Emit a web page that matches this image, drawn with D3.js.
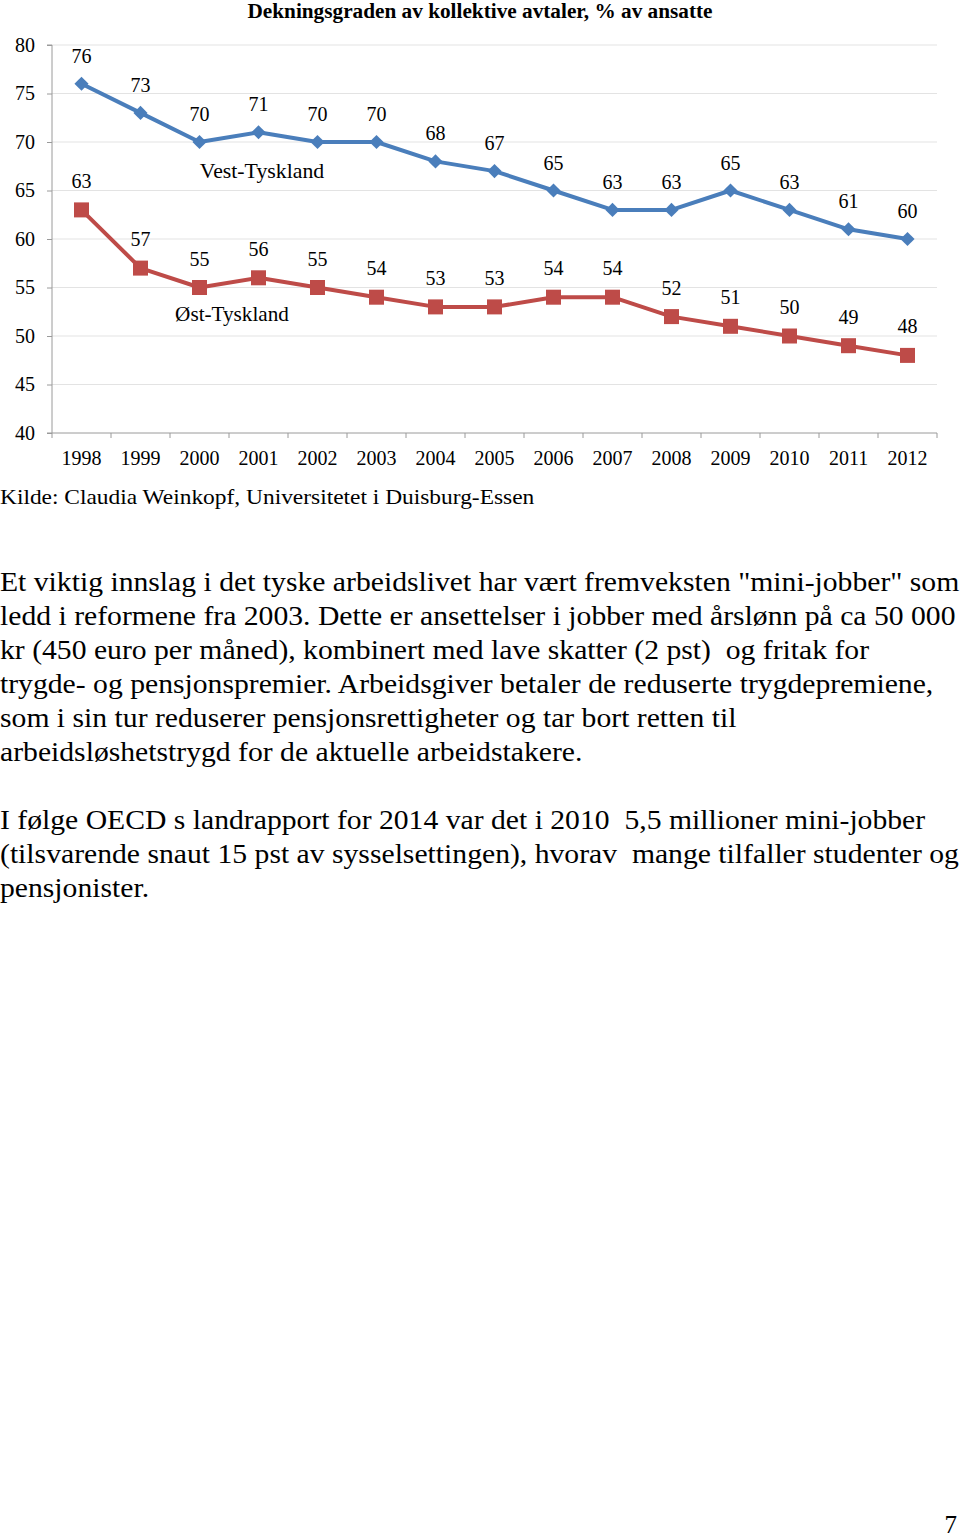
<!DOCTYPE html>
<html><head><meta charset="utf-8">
<script src="https://cdn.jsdelivr.net/npm/d3@7"></script>
<style>body{margin:0;background:#fff}svg{display:block}</style>
</head><body>
<script>
const years = ["1998","1999","2000","2001","2002","2003","2004","2005","2006","2007","2008","2009","2010","2011","2012"];
const vest = [76,73,70,71,70,70,68,67,65,63,63,65,63,61,60];
const ost = [63,57,55,56,55,54,53,53,54,54,52,51,50,49,48];
const yTicks = [40,45,50,55,60,65,70,75,80];
const title = "Dekningsgraden av kollektive avtaler, % av ansatte";
const source = "Kilde: Claudia Weinkopf, Universitetet i Duisburg-Essen";
const para1 = [
 "Et viktig innslag i det tyske arbeidslivet har vært fremveksten \"mini-jobber\" som",
 "ledd i reformene fra 2003. Dette er ansettelser i jobber med årslønn på ca 50 000",
 "kr (450 euro per måned), kombinert med lave skatter (2 pst)  og fritak for",
 "trygde- og pensjonspremier. Arbeidsgiver betaler de reduserte trygdepremiene,",
 "som i sin tur reduserer pensjonsrettigheter og tar bort retten til",
 "arbeidsløshetstrygd for de aktuelle arbeidstakere."];
const para2 = [
 "I følge OECD s landrapport for 2014 var det i 2010  5,5 millioner mini-jobber",
 "(tilsvarende snaut 15 pst av sysselsettingen), hvorav  mange tilfaller studenter og",
 "pensjonister."];

(function(){
const W = 960, H = 1538;
const font = "'Liberation Serif','Times New Roman',serif";
const svg = d3.select("body").append("svg").attr("width", W).attr("height", H)
  .style("font-family", font);

const pl = 52, pr = 937, pt = 45, pb = 433;
const x = d3.scaleBand().domain(years).range([pl, pr]);
const y = d3.scaleLinear().domain([40, 80]).range([pb, pt]);

svg.append("g").selectAll("line").data(yTicks.slice(1)).join("line")
  .attr("x1", pl).attr("x2", pr).attr("y1", d => y(d)).attr("y2", d => y(d))
  .attr("stroke", "#e3e3e3").attr("stroke-width", 1);

const ya = svg.append("g").attr("transform", `translate(${pl},0)`)
  .call(d3.axisLeft(y).tickValues(yTicks).tickSize(5).tickPadding(12));
ya.select(".domain").attr("stroke", "#9a9a9a").attr("d", `M-5,${pt}H0V${pb}H-5`);
ya.selectAll(".tick line").attr("stroke", "#9a9a9a");
ya.selectAll("text").attr("font-family", font).attr("font-size", 20).attr("fill", "#000");

const xa = svg.append("g").attr("transform", `translate(0,${pb})`)
  .call(d3.axisBottom(x).tickSize(0).tickPadding(18));
xa.select(".domain").attr("stroke", "#9a9a9a").attr("d", `M${pl},0H${pr}`);
xa.selectAll("text").attr("font-family", font).attr("font-size", 20).attr("fill", "#000");
const bounds = years.map(d => x(d)).concat([pr]);
xa.append("g").selectAll("line").data(bounds).join("line")
  .attr("x1", d => d).attr("x2", d => d).attr("y1", 0).attr("y2", 5)
  .attr("stroke", "#9a9a9a");

const cx = d => x(d) + x.bandwidth() / 2;
const line = d3.line().x((d, i) => cx(years[i])).y(d => y(d));

const blue = "#4a7ebb", red = "#be4b48";
svg.append("path").datum(vest).attr("d", line).attr("fill", "none")
  .attr("stroke", blue).attr("stroke-width", 4).attr("stroke-linejoin", "round");
svg.append("path").datum(ost).attr("d", line).attr("fill", "none")
  .attr("stroke", red).attr("stroke-width", 4).attr("stroke-linejoin", "round");

svg.append("g").selectAll("path").data(vest).join("path")
  .attr("transform", (d, i) => `translate(${cx(years[i])},${y(d)}) rotate(45)`)
  .attr("d", "M-5,-5H5V5H-5Z").attr("fill", blue);
svg.append("g").selectAll("rect").data(ost).join("rect")
  .attr("x", (d, i) => cx(years[i]) - 7.5).attr("y", d => y(d) - 7.5)
  .attr("width", 15).attr("height", 15).attr("fill", red);

svg.append("g").selectAll("text").data(vest).join("text")
  .attr("x", (d, i) => cx(years[i])).attr("y", d => y(d) - 21)
  .attr("text-anchor", "middle").attr("font-size", 20).text(d => d);
svg.append("g").selectAll("text").data(ost).join("text")
  .attr("x", (d, i) => cx(years[i])).attr("y", d => y(d) - 22)
  .attr("text-anchor", "middle").attr("font-size", 20).text(d => d);

svg.append("text").attr("transform", "translate(262,178) scale(1.09,1)").attr("text-anchor", "middle")
  .attr("font-size", 20).text("Vest-Tyskland");
svg.append("text").attr("transform", "translate(232,321) scale(1.06,1)").attr("text-anchor", "middle")
  .attr("font-size", 20).text("Øst-Tyskland");

svg.append("text").attr("transform", "translate(480,18) scale(1.064,1)").attr("text-anchor", "middle")
  .attr("font-size", 20).attr("font-weight", "bold").text(title);

svg.append("text").attr("transform", "translate(0,504) scale(1.115,1)").attr("font-size", 21).text(source);

svg.append("g").selectAll("text").data(para1).join("text")
  .attr("transform", (d, i) => `translate(0,${591 + i * 34}) scale(1.099,1)`).attr("font-size", 27)
  .style("white-space", "pre").text(d => d);
svg.append("g").selectAll("text").data(para2).join("text")
  .attr("transform", (d, i) => `translate(0,${829 + i * 34}) scale(1.099,1)`).attr("font-size", 27)
  .style("white-space", "pre").text(d => d);

svg.append("text").attr("x", 957).attr("y", 1533).attr("text-anchor", "end").attr("font-size", 25).text("7");
})();
</script>
</body></html>
